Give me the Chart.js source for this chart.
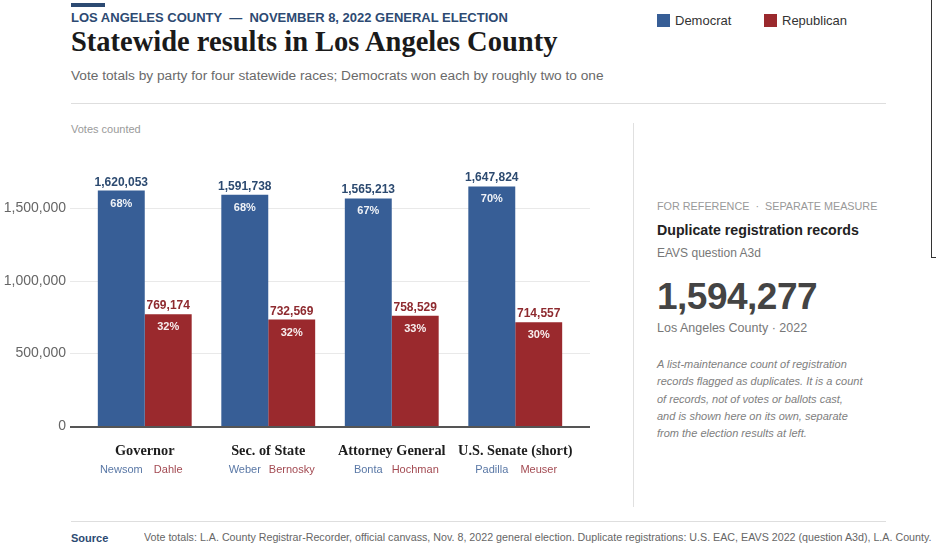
<!DOCTYPE html>
<html>
<head>
<meta charset="utf-8">
<script src="https://cdn.jsdelivr.net/npm/chart.js@4.4.1/dist/chart.umd.min.js"></script>
<style>
  body { margin:0; width:936px; height:547px; background:#fff; position:relative; overflow:hidden;
         font-family:"Liberation Sans", Arial, sans-serif; }
  .abs { position:absolute; white-space:nowrap; }
  #accent { left:71px; top:3px; width:34px; height:4px; background:#2c4a72; }
  #kicker { left:71px; top:10px; font-size:13px; font-weight:bold; color:#2d4a72; }
  #title { left:71px; top:26px; font-family:"Liberation Serif", serif; font-weight:bold; font-size:28.5px; color:#1a1a1a; }
  #sub { left:71px; top:68px; font-size:13.7px; color:#6a6a6a; }
  #rule1 { left:71px; top:103px; width:815px; height:1px; background:#dedede; }
  .leg { top:13px; font-size:13px; color:#333; }
  .sw { display:inline-block; width:13px; height:13px; vertical-align:-2px; margin-right:5px; }
  #ylab { left:71px; top:123px; font-size:11px; color:#9a9a9a; }
  #divider { left:633px; top:123px; width:1px; height:384px; background:#e0e0e0; }
  #canvasWrap { left:0; top:110px; width:625px; height:380px; }
  .rp { left:657px; }
  #ref { top:200px; font-size:10.8px; color:#999; }
  #dup { top:222px; font-size:14.2px; font-weight:bold; color:#222; }
  #eavs { top:246px; font-size:12px; color:#777; }
  #big { top:276px; font-size:37px; font-weight:bold; color:#444; letter-spacing:-0.5px; }
  #lac { top:321px; font-size:12.5px; color:#777; }
  #note { top:356px; font-size:11px; font-style:italic; color:#808080; line-height:17.3px; }
  #rule2 { left:71px; top:521px; width:815px; height:1px; background:#dedede; }
  #srcH { left:71px; top:532px; font-size:11px; font-weight:bold; color:#2c4a72; }
  #srcT { left:144px; top:531px; font-size:11.5px; color:#666; transform-origin:0 0; transform:scaleX(0.93); }
  #frame { left:931px; top:-2px; width:12px; height:258px; border:1.5px solid #333; }
</style>
</head>
<body>
<div class="abs" id="accent"></div>
<div class="abs" id="kicker">LOS ANGELES COUNTY &nbsp;— &nbsp;NOVEMBER 8, 2022 GENERAL ELECTION</div>
<div class="abs" id="title">Statewide results in Los Angeles County</div>
<div class="abs" id="sub">Vote totals by party for four statewide races; Democrats won each by roughly two to one</div>
<div class="abs" id="rule1"></div>
<div class="abs leg" style="left:657px"><span class="sw" style="background:#375e96"></span>Democrat</div>
<div class="abs leg" style="left:764px"><span class="sw" style="background:#9a292d"></span>Republican</div>
<div class="abs" id="ylab">Votes counted</div>
<div class="abs" id="divider"></div>
<div class="abs" id="canvasWrap"><canvas id="chart" width="625" height="380"></canvas></div>
<div class="abs rp" id="ref">FOR REFERENCE &nbsp;·&nbsp; SEPARATE MEASURE</div>
<div class="abs rp" id="dup">Duplicate registration records</div>
<div class="abs rp" id="eavs">EAVS question A3d</div>
<div class="abs rp" id="big">1,594,277</div>
<div class="abs rp" id="lac">Los Angeles County · 2022</div>
<div class="abs rp" id="note">A list-maintenance count of registration<br>records flagged as duplicates. It is a count<br>of records, not of votes or ballots cast,<br>and is shown here on its own, separate<br>from the election results at left.</div>
<div class="abs" id="rule2"></div>
<div class="abs" id="srcH">Source</div>
<div class="abs" id="srcT">Vote totals: L.A. County Registrar-Recorder, official canvass, Nov. 8, 2022 general election. Duplicate registrations: U.S. EAC, EAVS 2022 (question A3d), L.A. County.</div>
<div class="abs" id="frame"></div>

<script>
const races = ["Governor", "Sec. of State", "Attorney General", "U.S. Senate (short)"];
const demNames = ["Newsom", "Weber", "Bonta", "Padilla"];
const repNames = ["Dahle", "Bernosky", "Hochman", "Meuser"];
const demVotes = [1620053, 1591738, 1565213, 1647824];
const repVotes = [769174, 732569, 758529, 714557];
const demPct = ["68%", "68%", "67%", "70%"];
const repPct = ["32%", "32%", "33%", "30%"];
const yTicks = [0, 500000, 1000000, 1500000];

const demColor = "#375e96";
const repColor = "#9a292d";

function fmt(n){ return n.toLocaleString("en-US"); }

// grid, axis, ticks and labels drawn by hand so the grid can run past the bars
const drawExtras = {
  id: "drawExtras",
  beforeDatasetsDraw(chart){
    const c = chart.ctx, y = chart.scales.y;
    const x0 = 70, x1 = 590;
    c.save();
    yTicks.forEach(function(t){
      const py = Math.round(y.getPixelForValue(t)) + 0.5;
      if (t > 0){
        c.strokeStyle = "#e9e9e9"; c.lineWidth = 1;
        c.beginPath(); c.moveTo(x0, py); c.lineTo(x1, py); c.stroke();
      }
      c.fillStyle = "#666"; c.font = "14px 'Liberation Sans', Arial";
      c.textAlign = "right"; c.textBaseline = "middle";
      c.fillText(t === 0 ? "0" : fmt(t), 66, py);
    });
    c.restore();
  },
  afterDatasetsDraw(chart){
    const c = chart.ctx, y = chart.scales.y, x = chart.scales.x;
    const zero = y.getPixelForValue(0);
    c.save();
    c.strokeStyle = "#555"; c.lineWidth = 2;
    c.beginPath(); c.moveTo(70, zero + 1); c.lineTo(590, zero + 1); c.stroke();

    const sets = [
      {meta: chart.getDatasetMeta(0), vals: demVotes, pct: demPct, names: demNames, col: "#2c4a70", ncol: "#5a78a6"},
      {meta: chart.getDatasetMeta(1), vals: repVotes, pct: repPct, names: repNames, col: "#8e2a2f", ncol: "#a34a52"}
    ];
    sets.forEach(function(s){
      s.meta.data.forEach(function(bar, i){
        c.textAlign = "center";
        c.textBaseline = "alphabetic";
        c.fillStyle = s.col; c.font = "bold 12px 'Liberation Sans', Arial";
        c.fillText(fmt(s.vals[i]), bar.x, bar.y - 5);
        c.fillStyle = "rgba(255,255,255,0.92)"; c.font = "bold 11px 'Liberation Sans', Arial";
        c.fillText(s.pct[i], bar.x, bar.y + 16);
        c.fillStyle = s.ncol; c.font = "11px 'Liberation Sans', Arial";
        c.fillText(s.names[i], bar.x, zero + 47);
      });
    });
    races.forEach(function(r, i){
      c.fillStyle = "#1e1e1e"; c.font = "bold 14.3px 'Liberation Serif', serif";
      c.textAlign = "center";
      c.fillText(r, x.getPixelForValue(i), zero + 29);
    });
    c.restore();
  }
};

new Chart(document.getElementById("chart"), {
  type: "bar",
  data: {
    labels: races,
    datasets: [
      {label: "Democrat", data: demVotes, backgroundColor: demColor},
      {label: "Republican", data: repVotes, backgroundColor: repColor}
    ]
  },
  options: {
    responsive: false,
    animation: false,
    devicePixelRatio: 1,
    layout: {padding: {left: 83, right: 48, top: 25.3, bottom: 64}},
    datasets: {bar: {categoryPercentage: 0.76, barPercentage: 1.0}},
    plugins: {legend: {display: false}, tooltip: {enabled: false}},
    scales: {
      x: {display: false},
      y: {display: false, min: 0, max: 2000000}
    }
  },
  plugins: [drawExtras]
});
</script>
</body>
</html>
